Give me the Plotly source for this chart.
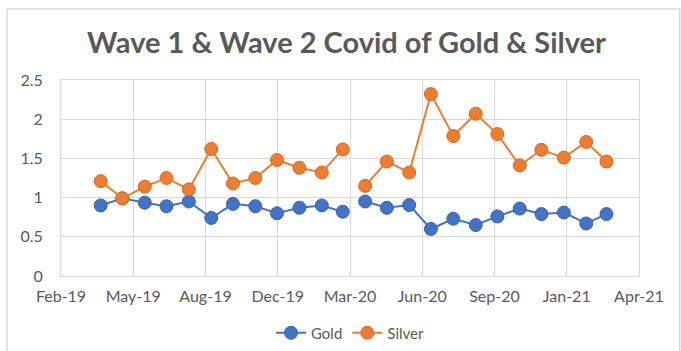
import plotly.graph_objects as go
import pandas as pd

# ---- data ----
months_wave1 = pd.date_range("2019-04-01", periods=12, freq="MS")
months_wave2 = pd.date_range("2020-04-01", periods=12, freq="MS")

gold_wave1 = [0.90, 0.99, 0.935, 0.89, 0.95, 0.74, 0.92, 0.89, 0.80, 0.87, 0.90, 0.82]
gold_wave2 = [0.95, 0.87, 0.905, 0.60, 0.73, 0.65, 0.76, 0.86, 0.79, 0.81, 0.67, 0.79]
silver_wave1 = [1.21, 0.99, 1.14, 1.25, 1.105, 1.62, 1.18, 1.25, 1.48, 1.38, 1.32, 1.615]
silver_wave2 = [1.15, 1.46, 1.32, 2.32, 1.785, 2.07, 1.81, 1.41, 1.61, 1.51, 1.71, 1.46]

title_text = "Wave 1 & Wave 2 Covid of Gold & Silver"
x_range = ["2019-02-05", "2021-04-15"]
x_tick0 = "2019-02-05"
x_tick_days = 100
y_range = [0, 2.5]
y_dtick = 0.5

GOLD = "#4472C4"
SILVER = "#ED7D31"
TEXT = "#595959"
GRID = "#D9D9D9"

fig = go.Figure()

series = [
    ("Gold", GOLD, "#3A63AE", [(months_wave1, gold_wave1), (months_wave2, gold_wave2)]),
    ("Silver", SILVER, "#D06A25", [(months_wave1, silver_wave1), (months_wave2, silver_wave2)]),
]
for name, color, edge, parts in series:
    for i, (xs, ys) in enumerate(parts):
        fig.add_trace(go.Scatter(
            x=xs, y=ys, name=name, legendgroup=name, showlegend=(i == 0),
            mode="lines+markers",
            line=dict(color=color, width=2),
            marker=dict(color=color, size=13, line=dict(color=edge, width=1)),
        ))

fig.update_layout(
    width=681, height=351,
    margin=dict(l=61, r=42, t=80, b=75, autoexpand=False),
    paper_bgcolor="white", plot_bgcolor="white",
    font=dict(family="Lato", color=TEXT, size=15),
    title=dict(text="<b>" + title_text + "</b>", x=346.5 / 681, xref="container", xanchor="center",
               y=1 - 43 / 351, yref="container", yanchor="middle",
               font=dict(family="Lato", size=29, color=TEXT)),
    legend=dict(orientation="h", x=0.5, xanchor="center", y=1 - 333 / 351, yref="container",
                yanchor="middle", font=dict(size=15, color=TEXT), traceorder="normal"),
    xaxis=dict(type="date", range=x_range, tick0=x_tick0, dtick=x_tick_days * 86400000,
               tickformat="%b-%y", showgrid=True, gridcolor=GRID, gridwidth=1,
               showline=True, linecolor=GRID, mirror=True, zeroline=False,
               ticks="", ticklabelstandoff=6, tickfont=dict(size=16, color=TEXT)),
    yaxis=dict(range=y_range, dtick=y_dtick, showgrid=True, gridcolor=GRID, gridwidth=1,
               showline=True, linecolor=GRID, mirror=True, zeroline=False,
               ticks="", ticklabelstandoff=14, tickfont=dict(size=16, color=TEXT)),
    shapes=[dict(type="rect", xref="paper", yref="paper",
                 x0=(7 - 61) / 578.3, x1=(680 - 61) / 578.3,
                 y0=(276 - 355) / 196, y1=(276 - 9) / 196,
                 line=dict(color=GRID, width=1.5), fillcolor="rgba(0,0,0,0)", layer="below")],
)

fig.write_html("out.html")
